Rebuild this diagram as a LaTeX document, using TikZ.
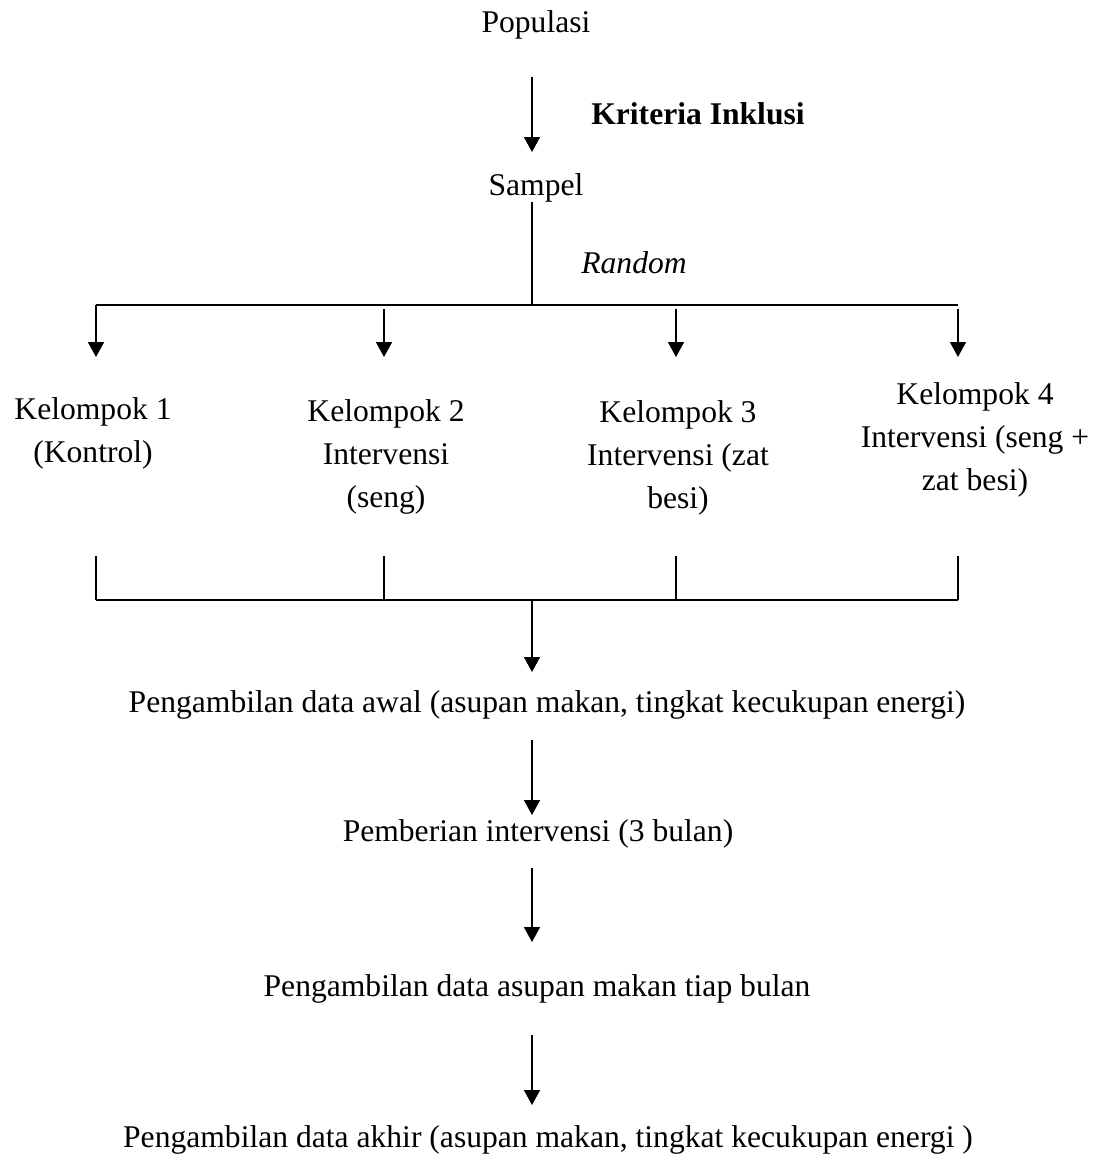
\documentclass[tikz,border=0pt]{standalone}
\usepackage{fontspec}
\setmainfont{Liberation Serif}
\usetikzlibrary{positioning, calc, arrows.meta}
\tikzset{
  every node/.style={font=\fontsize{15.8}{21.5}\selectfont, inner sep=0pt},
  stage/.style={text height=0.68em, text depth=0.22em, yshift=-3pt},
  grp/.style={align=center, yshift=-1.5pt},
  link/.style={draw=black, line width=0.8pt},
  arr/.style={link, -{Triangle[length=7.5pt, width=8pt]}},
}

\begin{document}
\begin{tikzpicture}[x=0.5pt, y=-0.5pt]
  \useasboundingbox (0,0) rectangle (1106,1158);
  \coordinate (spine) at (532,0);

  % ---- top: population to sample ------------------------------------------
  \node[stage] (pop)    at (536,22)  {Populasi};
  \node[stage, font=\fontsize{15.8}{21.5}\selectfont\bfseries] (krit) at (698,114) {Kriteria Inklusi};
  \node[stage] (sampel) at (536,185) {Sampel};
  \node[stage, font=\fontsize{15.8}{21.5}\selectfont\itshape] (rand) at (634,263) {Random};

  \draw[arr] ($(pop.center -| spine)+(0,49)$) -- ($(sampel.center -| spine)+(0,-39)$);
  \coordinate (split) at (532,305);
  \draw[link] ($(sampel.center -| spine)+(0,11)$) -- (split);

  % ---- groups ---------------------------------------------------------------
  \node[grp] (k1) at (93,430)    {Kelompok 1\\(Kontrol)};
  \node[grp] (k2) at (386,453.5) {Kelompok 2\\Intervensi\\(seng)};
  \node[grp] (k3) at (678,455)   {Kelompok 3\\Intervensi (zat\\besi)};
  \node[grp] (k4) at (975,437)   {Kelompok 4\\Intervensi (seng +\\zat besi)};

  \foreach \x [count=\i] in {96,384,676,958} {
    \coordinate (up\i) at (\x,309);
    \coordinate (dn\i) at (\x,357);
    \coordinate (lo\i) at (\x,556);
    \coordinate (jn\i) at (\x,600);
  }
  \draw[link] (up1 |- split) -- (up4 |- split);
  \draw[arr] (up1 |- split) -- (dn1);
  \foreach \i in {2,3,4} \draw[arr] (up\i) -- (dn\i);
  \foreach \i in {1,...,4} \draw[link] (lo\i) -- (jn\i);
  \draw[link] (jn1) -- (jn4);

  % ---- procedure ------------------------------------------------------------
  \node[stage] (awal)  at (547,702)  {Pengambilan data awal (asupan makan, tingkat kecukupan energi)};
  \node[stage] (beri)  at (538,831)  {Pemberian intervensi (3 bulan)};
  \node[stage] (bulan) at (537,986)  {Pengambilan data asupan makan tiap bulan};
  \node[stage] (akhir) at (548,1137) {Pengambilan data akhir (asupan makan, tingkat kecukupan energi )};

  \draw[arr] (jn1 -| spine) -- ($(awal.center -| spine)+(0,-36)$);
  \foreach \a/\b/\s/\e in {awal/beri/32/-22, beri/bulan/31/-50, bulan/akhir/43/-38}
    \draw[arr] ($(\a.center -| spine)+(0,\s)$) -- ($(\b.center -| spine)+(0,\e)$);
\end{tikzpicture}
\end{document}
